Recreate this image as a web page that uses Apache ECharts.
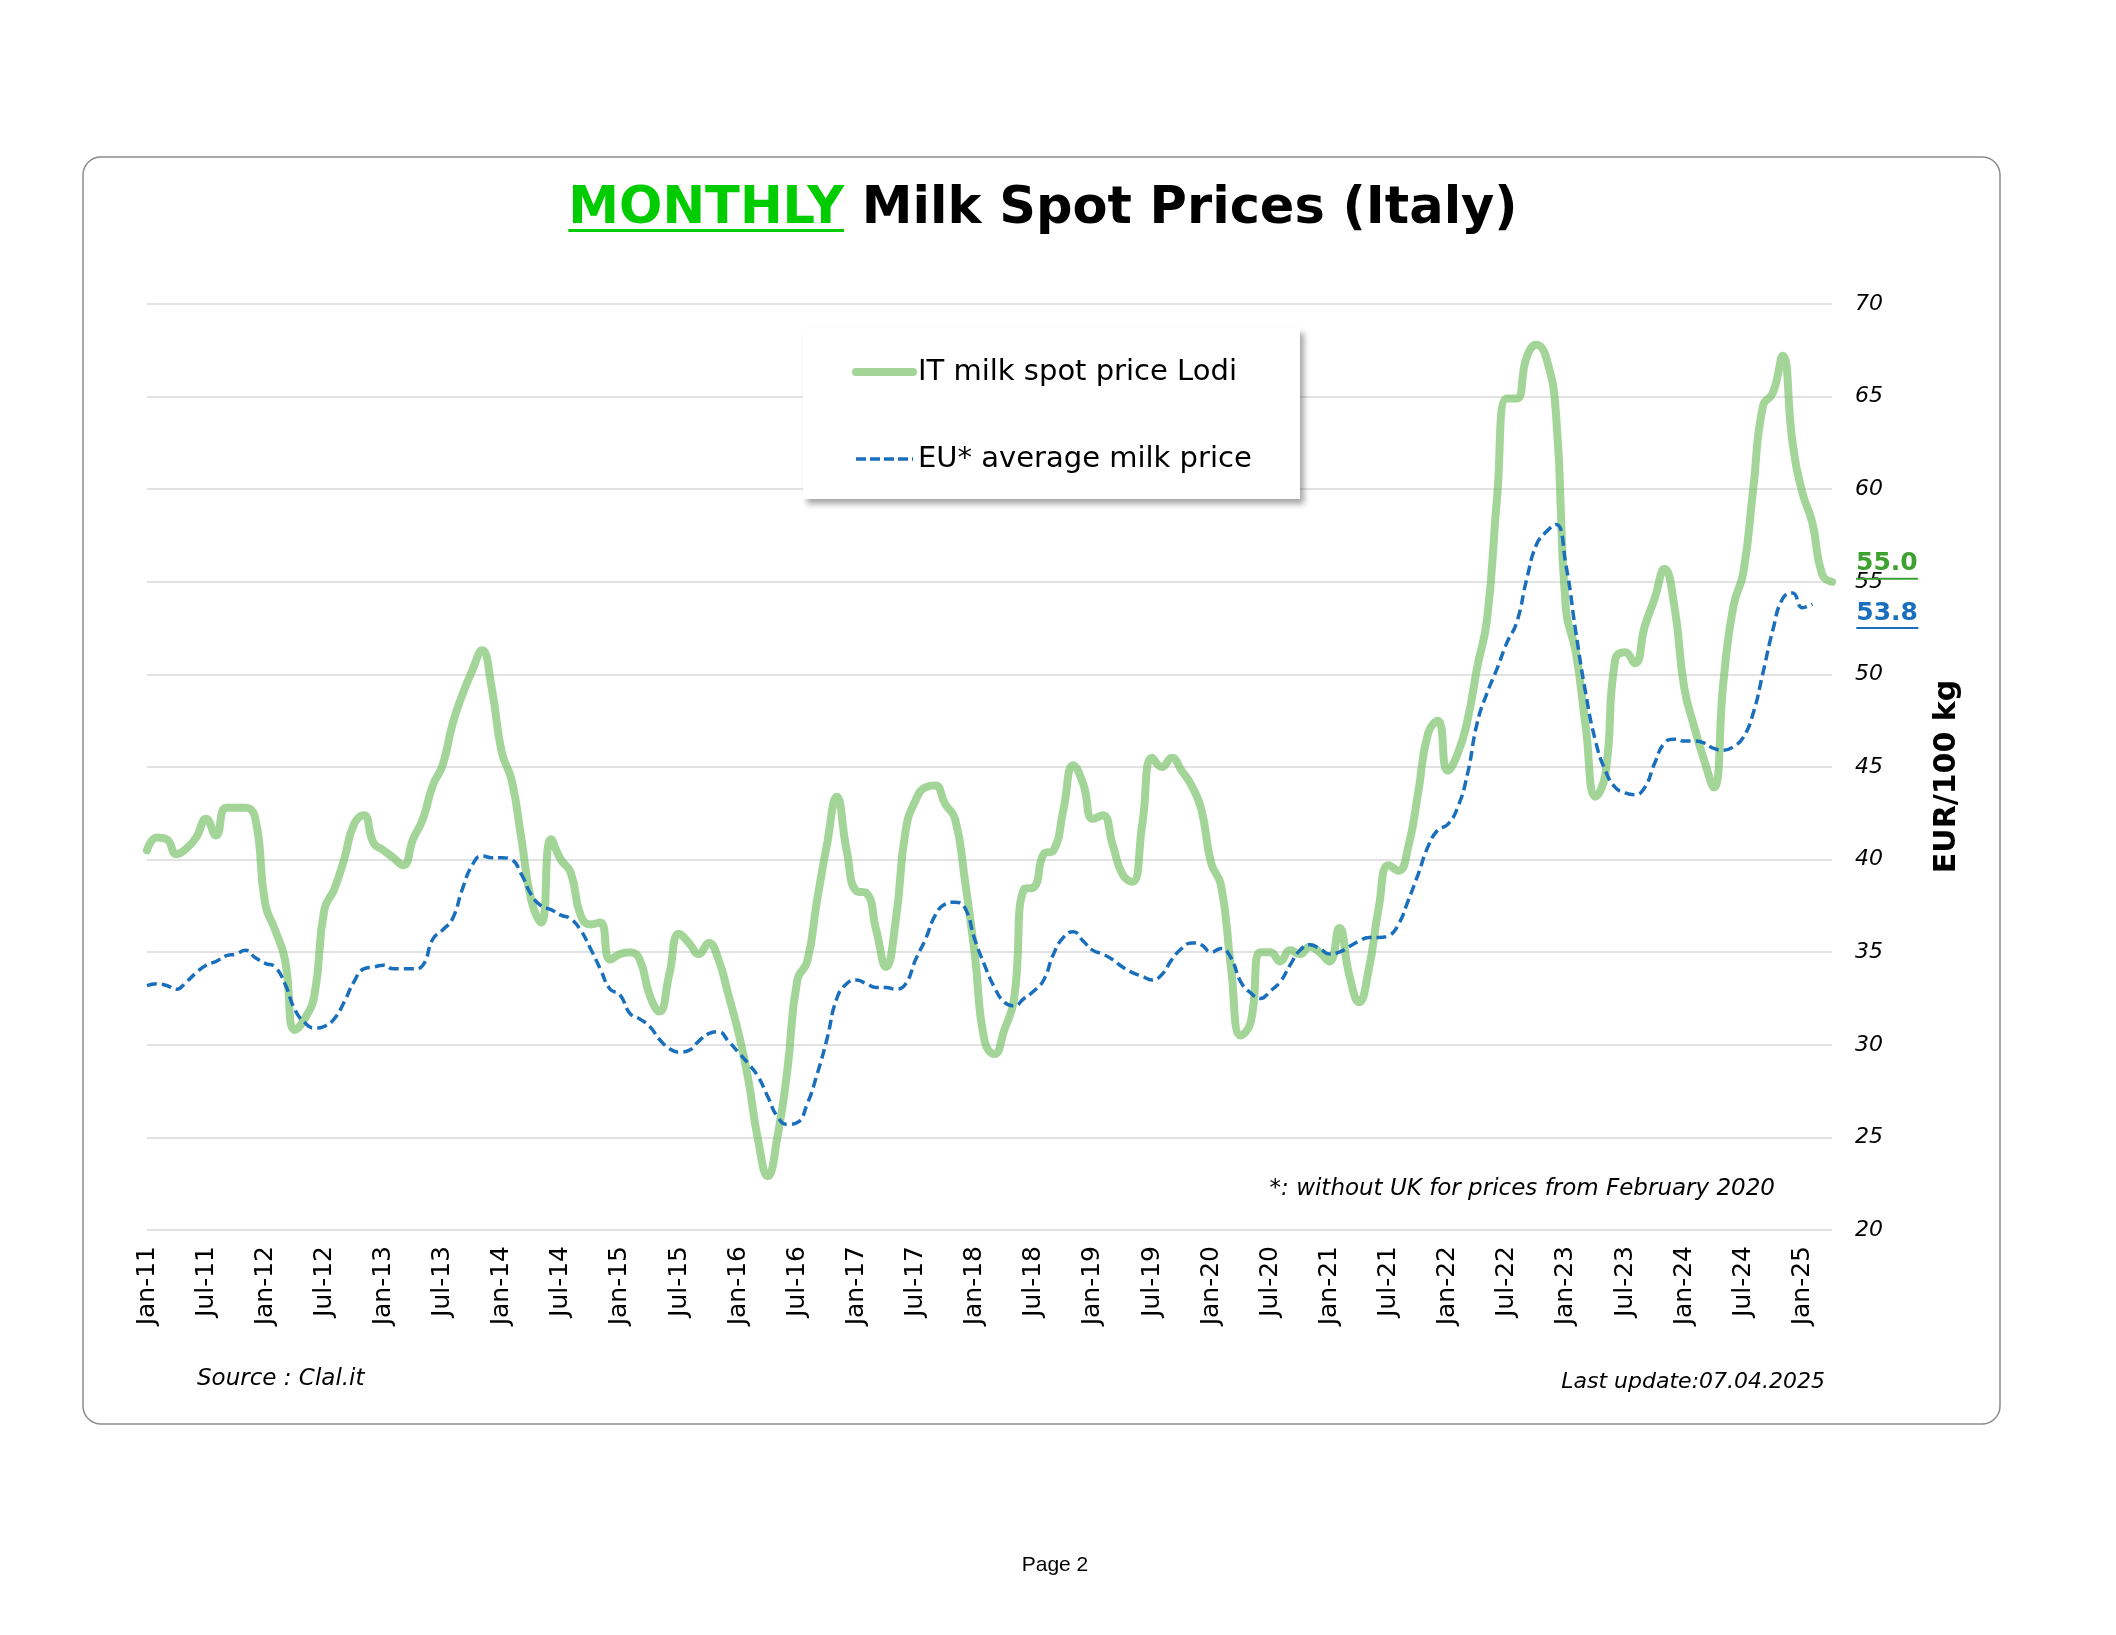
<!DOCTYPE html>
<html>
<head>
<meta charset="utf-8">
<title>Monthly Milk Spot Prices (Italy)</title>
<script src="https://cdn.jsdelivr.net/npm/echarts@6/dist/echarts.min.js"></script>
<style>
    html, body {margin:0; padding:0; background:#fff;}
    #chart {width:2116px; height:1635px;}
</style>
</head>
<body>
<div id="chart"></div>
<script>
    // months Jan-11 .. Apr-25
    var monthAbbr = ['Jan','Feb','Mar','Apr','May','Jun','Jul','Aug','Sep','Oct','Nov','Dec'];
    var years = ['11','12','13','14','15','16','17','18','19','20','21','22','23','24','25'];
    var lastYearMonths = 4;

    // IT milk spot price Lodi, EUR/100 kg
    var itLodi = [
        40.5, 41.2, 41.1, 40.3, 40.6, 41.2, 42.2, 41.3, 42.8, 42.8, 42.8, 42.2,
        37.6, 36.2, 34.6, 30.8, 31.4, 32.7, 37.3, 38.4, 40.0, 41.9, 42.4, 40.9,
        40.5, 40.1, 39.7, 41.1, 42.2, 44.0, 45.1, 47.3, 48.9, 50.2, 51.3, 49.2,
        45.8, 44.3, 41.1, 37.8, 36.6, 41.1, 40.0, 39.3, 37.0, 36.5, 36.6, 34.6,
        34.9, 35.0, 34.6, 32.7, 31.8, 33.8, 36.0, 35.5, 34.9, 35.5, 34.6, 32.7,
        30.7, 28.2, 24.9, 22.9, 25.1, 28.7, 33.5, 34.5, 37.8, 40.8, 43.4, 40.5,
        38.3, 38.2, 36.2, 34.2, 36.8, 41.6, 43.2, 43.9, 44.0, 43.0, 42.2, 38.9,
        34.9, 30.2, 29.5, 30.8, 32.5, 38.4, 38.5, 40.3, 40.5, 42.7, 45.1, 44.1,
        42.2, 42.4, 40.8, 39.2, 38.8, 41.9, 45.5, 45.0, 45.5, 44.8, 44.0, 42.7,
        39.8, 38.6, 34.2, 30.5, 31.2, 35.0, 35.0, 34.5, 35.1, 34.9, 35.3, 35.0,
        34.5, 36.3, 33.8, 32.3, 34.1, 37.4, 39.7, 39.4, 40.7, 43.6, 46.8, 47.5,
        44.8, 45.7, 47.5, 50.4, 53.0, 59.5, 64.9, 64.9, 67.1, 67.8, 67.1, 64.0,
        53.5, 51.2, 47.2, 43.4, 44.6, 50.8, 51.2, 50.6, 52.6, 54.1, 55.7, 53.7,
        49.3, 47.2, 45.4, 43.9, 49.7, 53.7, 55.5, 60.0, 64.5, 65.2, 67.2, 62.5,
        59.8, 58.2, 55.4, 55.0
    ];

    // EU* average milk price, EUR/100 kg (up to Feb-25)
    var euAvg = [
        33.2, 33.3, 33.2, 33.0, 33.4, 33.9, 34.3, 34.5, 34.8, 34.9, 35.1, 34.7,
        34.4, 34.2, 33.3, 31.9, 31.2, 30.9, 31.0, 31.4, 32.3, 33.4, 34.1, 34.2,
        34.3, 34.1, 34.1, 34.1, 34.3, 35.7, 36.2, 36.8, 38.4, 39.7, 40.2, 40.1,
        40.1, 40.0, 39.2, 38.1, 37.5, 37.3, 37.0, 36.8, 36.2, 35.2, 34.1, 33.0,
        32.7, 31.7, 31.4, 31.0, 30.3, 29.8, 29.6, 29.7, 30.2, 30.6, 30.7, 30.2,
        29.6, 29.0, 28.3, 27.2, 26.1, 25.7, 25.8, 26.8, 28.4, 30.3, 32.5, 33.3,
        33.5, 33.3, 33.1, 33.1, 33.0, 33.3, 34.6, 35.7, 37.0, 37.6, 37.7, 37.4,
        35.7, 34.3, 33.1, 32.3, 32.1, 32.5, 32.9, 33.5, 34.9, 35.8, 36.1, 35.6,
        35.1, 34.9, 34.6, 34.2, 33.9, 33.7, 33.5, 33.8, 34.6, 35.2, 35.5, 35.4,
        35.0, 35.2, 34.7, 33.4, 32.8, 32.5, 32.9, 33.4, 34.3, 35.1, 35.4, 35.2,
        34.9, 35.0, 35.3, 35.6, 35.8, 35.8, 35.9, 36.5, 37.8, 39.2, 40.7, 41.6,
        41.9, 42.8, 44.6, 47.4, 49.0, 50.3, 51.7, 52.8, 55.1, 57.0, 57.7, 58.1,
        55.9, 52.3, 49.0, 46.4, 44.8, 43.9, 43.6, 43.5, 43.9, 45.2, 46.3, 46.5,
        46.4, 46.4, 46.3, 46.0, 45.9, 46.1, 46.6, 47.9, 50.1, 52.4, 54.1, 54.4,
        53.6, 53.8
    ];

    var categories = [];
    years.forEach(function (y, i) {
        var n = (i === years.length - 1) ? lastYearMonths : 12;
        for (var m = 0; m < n; m++) categories.push(monthAbbr[m] + '-' + y);
    });

    var greenLine = 'rgba(112,191,95,0.65)';
    var greenLabel = '#3ca12e';
    var blueLine = '#1a6fbd';
    var font = '"DejaVu Sans", Verdana, sans-serif';

    // title pieces measured so the underline sits under MONTHLY
    var ctx = document.createElement('canvas').getContext('2d');
    ctx.font = 'bold 51px "DejaVu Sans"';
    var w1 = ctx.measureText('MONTHLY').width;
    var w2 = ctx.measureText(' Milk Spot Prices (Italy)').width;
    var titleX = 1043 - (w1 + w2) / 2;

    function endLabel(color, offset) {
        return {
            show: true,
            offset: offset,
            formatter: function (p) { return '{v|' + Number(p.value).toFixed(1) + '}\n{u| }'; },
            rich: {
                v: {fontSize: 25, fontWeight: 'bold', fontFamily: font, color: color, lineHeight: 28},
                u: {width: 62, height: 2, lineHeight: 2, backgroundColor: color}
            }
        };
    }

    var chart = echarts.init(document.getElementById('chart'));
    var option = {
        backgroundColor: '#fff',
        animation: false,
        grid: {left: 147, right: 284, top: 304, bottom: 405, containLabel: false},
        legend: {
            left: 847, top: 352, orient: 'vertical',
            itemWidth: 57, itemHeight: 12, itemGap: 57,
            selectedMode: false, z: 6,
            itemStyle: {opacity: 0},
            textStyle: {fontSize: 29, fontFamily: font, color: '#000', lineHeight: 30},
            data: [
                {name: 'IT milk spot price Lodi', itemStyle: {opacity: 0},
                    lineStyle: {width: 8, color: greenLine, type: 'solid', cap: 'round'}},
                {name: 'EU* average milk price', itemStyle: {opacity: 0},
                    lineStyle: {width: 3.5, color: blueLine, type: [10, 4]}}
            ]
        },
        xAxis: {
            type: 'category',
            data: categories,
            boundaryGap: false,
            axisLine: {show: false},
            axisTick: {show: false},
            splitLine: {show: false},
            axisLabel: {interval: 5, rotate: 90, margin: 16, fontSize: 25, fontFamily: font, color: '#000'}
        },
        yAxis: {
            type: 'value',
            position: 'right',
            min: 20, max: 70, interval: 5,
            axisLine: {show: false},
            axisTick: {show: false},
            splitLine: {lineStyle: {color: '#d9d9d9', width: 1.5}},
            axisLabel: {margin: 23, fontSize: 22, fontStyle: 'italic', fontFamily: font, color: '#000'},
            name: 'EUR/100 kg',
            nameLocation: 'middle',
            nameRotate: 90,
            nameGap: 100,
            nameTextStyle: {fontSize: 30, fontWeight: 'bold', fontFamily: font, color: '#000', padding: [0, 19, 0, 0]}
        },
        series: [
            {
                name: 'IT milk spot price Lodi',
                type: 'line',
                data: itLodi,
                smooth: 0.5,
                symbol: 'none',
                z: 3,
                lineStyle: {width: 8, color: greenLine, cap: 'round'},
                itemStyle: {color: greenLine},
                endLabel: endLabel(greenLabel, [16, -17])
            },
            {
                name: 'EU* average milk price',
                type: 'line',
                data: euAvg,
                smooth: 0.5,
                symbol: 'none',
                z: 4,
                lineStyle: {width: 3.5, color: blueLine, type: [10, 5]},
                itemStyle: {color: blueLine},
                endLabel: endLabel(blueLine, [36, 10])
            }
        ],
        graphic: [
            {
                type: 'rect', z: 0, silent: true,
                shape: {x: 83, y: 157, width: 1917, height: 1267, r: 18},
                style: {fill: 'none', stroke: '#8c8c8c', lineWidth: 1.5}
            },
            {
                type: 'rect', z: 5, silent: true,
                shape: {x: 803, y: 328, width: 497, height: 171},
                style: {fill: '#fff', shadowBlur: 6, shadowOffsetX: 4, shadowOffsetY: 5, shadowColor: 'rgba(0,0,0,0.35)'}
            },
            {
                type: 'text', z: 10, x: titleX, y: 210,
                style: {text: 'MONTHLY', font: 'bold 51px "DejaVu Sans"', fill: '#00cc00', verticalAlign: 'middle'}
            },
            {
                type: 'rect', z: 10, silent: true,
                shape: {x: titleX, y: 229, width: w1, height: 3},
                style: {fill: '#00cc00'}
            },
            {
                type: 'text', z: 10, x: titleX + w1, y: 210,
                style: {text: ' Milk Spot Prices (Italy)', font: 'bold 51px "DejaVu Sans"', fill: '#000', verticalAlign: 'middle'}
            },
            {
                type: 'text', z: 10, x: 1775, y: 1189,
                style: {text: '*: without UK for prices from February 2020', font: 'italic 23px "DejaVu Sans"', fill: '#000', align: 'right', verticalAlign: 'middle'}
            },
            {
                type: 'text', z: 10, x: 197, y: 1379,
                style: {text: 'Source : Clal.it', font: 'italic 23px "DejaVu Sans"', fill: '#000', verticalAlign: 'middle'}
            },
            {
                type: 'text', z: 10, x: 1825, y: 1382,
                style: {text: 'Last update:07.04.2025', font: 'italic 22px "DejaVu Sans"', fill: '#000', align: 'right', verticalAlign: 'middle'}
            },
            {
                type: 'text', z: 10, x: 1055, y: 1565,
                style: {text: 'Page 2', font: '21px "Liberation Sans"', fill: '#000', align: 'center', verticalAlign: 'middle'}
            }
        ]
    };
    chart.setOption(option);
</script>
</body>
</html>
